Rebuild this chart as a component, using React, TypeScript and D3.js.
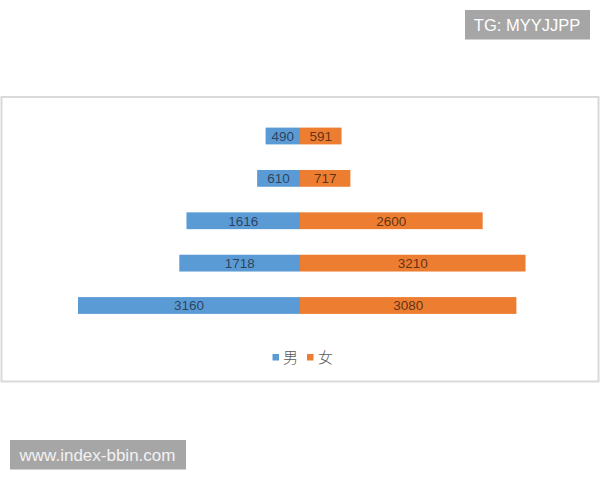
import React from "react";
import * as d3 from "d3";

const categories = ["g1", "g2", "g3", "g4", "g5"];
const maleValues = [490, 610, 1616, 1718, 3160];
const femaleValues = [591, 717, 2600, 3210, 3080];
const seriesNames = ["男", "女"];
const colors = ["#5B9BD5", "#ED7D31"];

export default function App() {
  const W = 600, H = 480;
  const x = d3.scaleLinear().domain([-3500, 3500]).range([300 - 245.9, 300 + 245.9]);
  const y = d3.scalePoint<string>().domain(categories).range([136, 305.5]);
  const bh = 16.8;
  const labelStyle: React.CSSProperties = { fontFamily: "Liberation Sans, Arial, sans-serif", fontSize: 13.5 };
  return (
    <svg width={W} height={H} style={{ position: "absolute", left: 0, top: 0, background: "#fff" }}>
      <rect x={0} y={0} width={W} height={H} fill="#fff" />
      <rect x={1.5} y={97} width={597} height={284.5} fill="#fff" stroke="#d9d9d9" strokeWidth={2} />
      {categories.map((c, i) => {
        const cy = y(c)!;
        const xm = x(-maleValues[i]);
        const xf = x(femaleValues[i]);
        const x0 = x(0);
        return (
          <g key={c}>
            <rect x={xm} y={cy - bh / 2} width={x0 - xm} height={bh} fill={colors[0]} />
            <rect x={x0} y={cy - bh / 2} width={xf - x0} height={bh} fill={colors[1]} />
            <text x={(xm + x0) / 2} y={cy} dy="0.36em" textAnchor="middle" fill="#1f2b3d" fillOpacity={0.8} style={labelStyle}>
              {maleValues[i]}
            </text>
            <text x={(x0 + xf) / 2} y={cy} dy="0.36em" textAnchor="middle" fill="#3a2010" fillOpacity={0.8} style={labelStyle}>
              {femaleValues[i]}
            </text>
          </g>
        );
      })}
      <g style={{ fontFamily: "Noto Sans CJK SC, sans-serif", fontSize: 15, fontWeight: 300 }} fill="#595959">
        <rect x={272.5} y={354} width={6.5} height={6.5} fill={colors[0]} />
        <text x={283} y={357.5} dy="0.36em">{seriesNames[0]}</text>
        <rect x={307} y={354} width={6.5} height={6.5} fill={colors[1]} />
        <text x={318} y={357.5} dy="0.36em">{seriesNames[1]}</text>
      </g>
      <rect x={465} y={10} width={125} height={29.5} fill="#a6a6a6" />
      <text x={527} y={25} dy="0.36em" textAnchor="middle" fill="#ffffff" style={{ fontFamily: "Liberation Sans, Arial, sans-serif", fontSize: 16.5 }}>
        TG: MYYJJPP
      </text>
      <rect x={10} y={440} width={176} height={29.5} fill="#a6a6a6" />
      <text x={97.5} y={455} dy="0.36em" textAnchor="middle" fill="#f2f2f2" style={{ fontFamily: "Liberation Sans, Arial, sans-serif", fontSize: 17 }}>
        www.index-bbin.com
      </text>
    </svg>
  );
}
